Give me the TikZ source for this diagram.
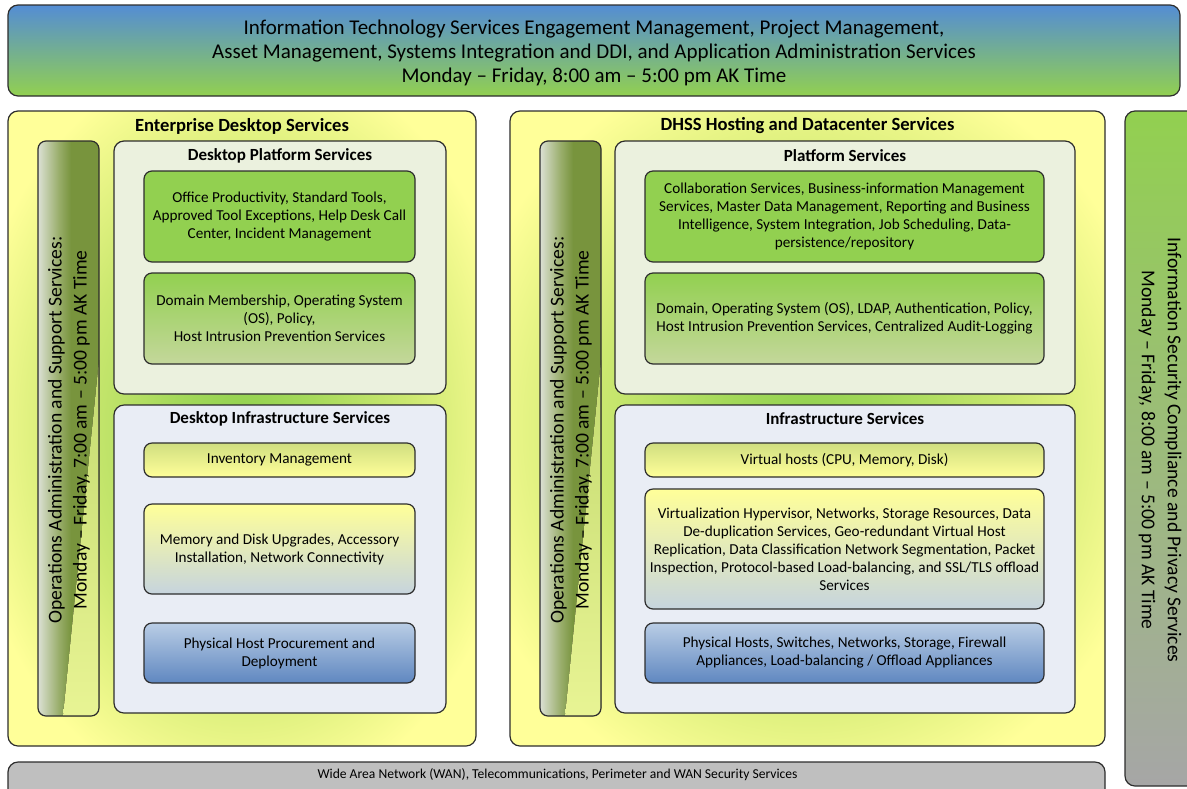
\documentclass[tikz,border=0pt]{standalone}
\usepackage{fontspec}
\setmainfont{Carlito}
\usetikzlibrary{positioning}

\definecolor{bannerblue}{RGB}{84,141,212}
\definecolor{leafgreen}{RGB}{146,208,80}
\definecolor{paleyellow}{RGB}{255,255,153}
\definecolor{platformbg}{RGB}{235,241,222}
\definecolor{infrabg}{RGB}{233,237,245}
\definecolor{sagegreen}{RGB}{196,215,155}
\definecolor{mossyellow}{RGB}{208,222,128}
\definecolor{mistblue}{RGB}{198,212,222}
\definecolor{skyblue}{RGB}{185,205,229}
\definecolor{steelblue}{RGB}{95,135,192}
\definecolor{wangray}{RGB}{191,191,191}
\definecolor{secgray}{RGB}{166,166,166}
\definecolor{edgegray}{RGB}{45,45,45}
\definecolor{wedgetop}{RGB}{196,218,112}
\definecolor{wedgebot}{RGB}{232,244,148}

\pgfdeclareradialshading{panelglow}{\pgfpoint{0bp}{0bp}}{rgb(0bp)=(0.57,0.82,0.31); rgb(7bp)=(0.64,0.85,0.35); rgb(18bp)=(0.8,0.91,0.44); rgb(30bp)=(1,1,0.6); rgb(50bp)=(1,1,0.6)}
\pgfdeclarehorizontalshading{barshade}{100bp}{rgb(0bp)=(0.86,0.88,0.83); rgb(25bp)=(0.86,0.88,0.83); rgb(42bp)=(0.6,0.68,0.42); rgb(52bp)=(0.47,0.58,0.24); rgb(100bp)=(0.47,0.58,0.24)}

\begin{document}
\begin{tikzpicture}[x=0.5pt,y=-0.5pt,
    edge/.style={draw=edgegray,line width=0.6pt},
    panel/.style={edge,rounded corners=5pt,shade,shading=panelglow,inner sep=0pt},
    group/.style={edge,rounded corners=5pt,inner sep=0pt},
    tile/.style={edge,rounded corners=4pt,align=center,inner sep=1pt,font=\fontsize{7.6}{9}\selectfont},
    title/.style={font=\bfseries\fontsize{9.3}{11}\selectfont},
    subtitle/.style={font=\bfseries\fontsize{8.5}{10}\selectfont},
    bartext/.style={align=center,font=\fontsize{9.8}{12.5}\selectfont}]
    \useasboundingbox (0,0) rectangle (1187,788);
    \clip (0,0) rectangle (1187,788);

    % top banner
    \node[edge,rounded corners=5pt,top color=bannerblue,bottom color=leafgreen,
        minimum width=586pt,minimum height=45.5pt] (itsbanner) at (594,50.5) {};
    \node[align=center,font=\fontsize{10.5}{12}\selectfont] (itsbannertext) at (594,52.5)
        {Information Technology Services Engagement Management, Project Management,\\
         Asset Management, Systems Integration and DDI, and Application Administration Services\\
         Monday – Friday, 8:00 am – 5:00 pm AK Time};

    % enterprise desktop panel
    \node[panel,minimum width=234pt,minimum height=317.5pt] (deskpanel) at (242,428.5) {};
    \node[title] (desktitle) at (242,126) {Enterprise Desktop Services};

    \path[shade,shading=barshade,rounded corners=4pt] (38,141) rectangle (99,716);
    \begin{scope}
        \clip[rounded corners=4pt] (38,141) rectangle (99,716);
        \fill[top color=wedgetop,bottom color=wedgebot] (99,360) -- (99,716) -- (63,716) -- cycle;
    \end{scope}
    \node[edge,rounded corners=4pt,minimum width=30.5pt,minimum height=287.5pt] (deskbar) at (68.5,428.5) {};
    \node[bartext,rotate=90] (deskbartext) at (69,430)
        {Operations Administration and Support Services:\\Monday – Friday, 7:00 am – 5:00 pm AK Time};

    \node[group,fill=platformbg,minimum width=166pt,minimum height=126.5pt] (dps) at (280,267.5) {};
    \node[subtitle] (dpstitle) at (280,156) {Desktop Platform Services};
    \node[tile,fill=leafgreen,minimum width=135.5pt,minimum height=45.5pt] (office) at (279.5,216.5)
        {Office Productivity, Standard Tools,\\Approved Tool Exceptions, Help Desk Call\\Center, Incident Management};
    \node[tile,top color=leafgreen,bottom color=sagegreen,minimum width=135.5pt,minimum height=45.5pt] (deskdomain) at (279.5,318.5)
        {Domain Membership, Operating System\\(OS), Policy,\\Host Intrusion Prevention Services};

    \node[group,fill=infrabg,minimum width=166pt,minimum height=154pt] (dis) at (280,559) {};
    \node[subtitle] (distitle) at (280,419) {Desktop Infrastructure Services};
    \node[tile,top color=mossyellow,bottom color=paleyellow,minimum width=135.5pt,minimum height=17pt] (inventory) at (279.5,460)
        {Inventory Management};
    \node[tile,top color=paleyellow,bottom color=mistblue,minimum width=135.5pt,minimum height=45pt] (upgrades) at (279.5,549)
        {Memory and Disk Upgrades, Accessory\\Installation, Network Connectivity};
    \node[tile,top color=skyblue,bottom color=steelblue,minimum width=135.5pt,minimum height=30pt] (procure) at (279.5,653)
        {Physical Host Procurement and\\Deployment};

    % hosting and datacenter panel
    \node[panel,minimum width=297.5pt,minimum height=317.5pt] (hostpanel) at (807.5,428.5) {};
    \node[title] (hosttitle) at (807.5,126) {DHSS Hosting and Datacenter Services};

    \path[shade,shading=barshade,rounded corners=4pt] (540,141) rectangle (601,716);
    \begin{scope}
        \clip[rounded corners=4pt] (540,141) rectangle (601,716);
        \fill[top color=wedgetop,bottom color=wedgebot] (601,360) -- (601,716) -- (565,716) -- cycle;
    \end{scope}
    \node[edge,rounded corners=4pt,minimum width=30.5pt,minimum height=287.5pt] (hostbar) at (570.5,428.5) {};
    \node[bartext,rotate=90] (hostbartext) at (571,430)
        {Operations Administration and Support Services:\\Monday – Friday, 7:00 am – 5:00 pm AK Time};

    \node[group,fill=platformbg,minimum width=230pt,minimum height=126.5pt] (ps) at (845,267.5) {};
    \node[subtitle] (pstitle) at (845,156) {Platform Services};
    \node[tile,fill=leafgreen,minimum width=199.5pt,minimum height=45.5pt] (collab) at (844.5,216.5)
        {Collaboration Services, Business-information Management\\Services, Master Data Management, Reporting and Business\\Intelligence, System Integration, Job Scheduling, Data-\\persistence/repository};
    \node[tile,top color=leafgreen,bottom color=sagegreen,minimum width=199.5pt,minimum height=45.5pt] (hostdomain) at (844.5,318.5)
        {Domain, Operating System (OS), LDAP, Authentication, Policy,\\Host Intrusion Prevention Services, Centralized Audit-Logging};

    \node[group,fill=infrabg,minimum width=230pt,minimum height=154pt] (is) at (845,559) {};
    \node[subtitle] (istitle) at (845,419) {Infrastructure Services};
    \node[tile,top color=mossyellow,bottom color=paleyellow,minimum width=199.5pt,minimum height=17pt] (vhosts) at (844.5,460)
        {Virtual hosts (CPU, Memory, Disk)};
    \node[tile,top color=paleyellow,bottom color=mistblue,minimum width=199.5pt,minimum height=60pt] (virt) at (844.5,549)
        {Virtualization Hypervisor, Networks, Storage Resources, Data\\De-duplication Services, Geo-redundant Virtual Host\\Replication, Data Classification Network Segmentation, Packet\\Inspection, Protocol-based Load-balancing, and SSL/TLS offload\\Services};
    \node[tile,top color=skyblue,bottom color=steelblue,minimum width=199.5pt,minimum height=30pt] (physical) at (844.5,653)
        {Physical Hosts, Switches, Networks, Storage, Firewall\\Appliances, Load-balancing / Offload Appliances};

    % security column
    \node[edge,rounded corners=5pt,top color=leafgreen,bottom color=secgray,
        minimum width=37.5pt,minimum height=337.5pt] (secbar) at (1162.5,448.5) {};
    \node[bartext,rotate=-90,font=\fontsize{9.8}{13}\selectfont] (sectext) at (1160,450)
        {Information Security Compliance and Privacy Services\\Monday – Friday, 8:00 am – 5:00 pm AK Time};

    % wan strip
    \node[edge,rounded corners=5pt,fill=wangray,minimum width=548.5pt,minimum height=19pt] (wanbar) at (556.5,781) {};
    \node[font=\fontsize{6.8}{8}\selectfont] (wantext) at (557.5,775)
        {Wide Area Network (WAN), Telecommunications, Perimeter and WAN Security Services};
\end{tikzpicture}
\end{document}
